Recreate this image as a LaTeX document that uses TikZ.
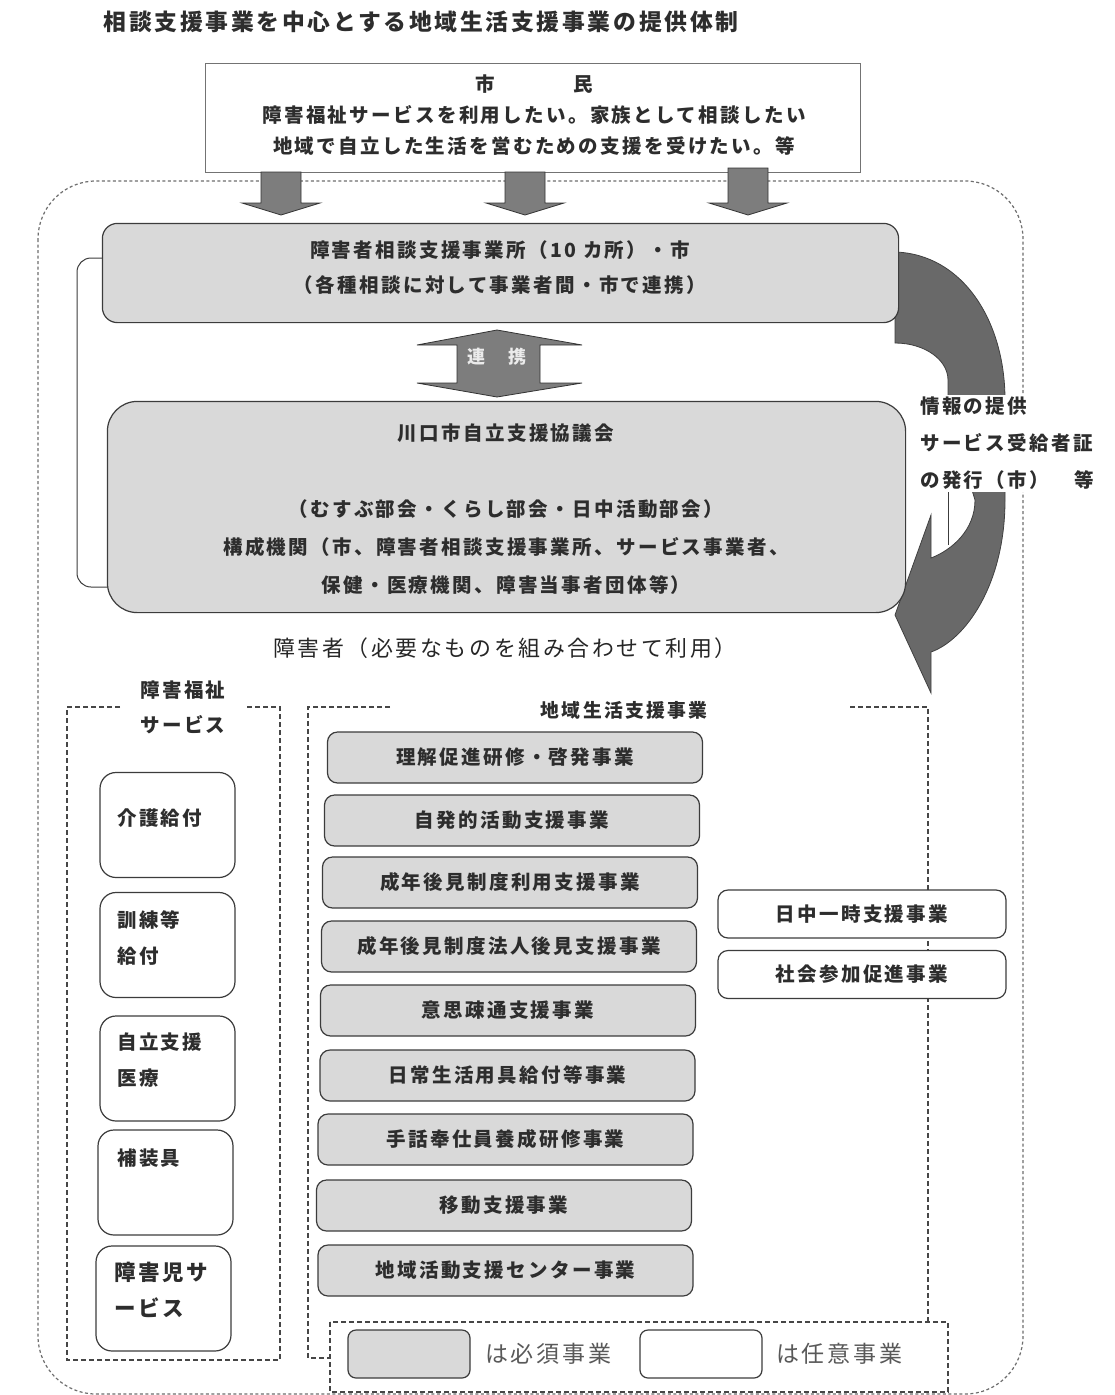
\documentclass[tikz,border=0pt]{standalone}
\usepackage{fontspec}
\newfontfamily\jp[LetterSpace=12]{Noto Sans CJK JP}
\usetikzlibrary{calc}
\definecolor{boxgray}{RGB}{217,217,217}
\definecolor{edge}{RGB}{60,60,60}
\definecolor{arrowgray}{RGB}{125,125,125}
\definecolor{darkarrow}{RGB}{105,105,105}
\definecolor{txt}{RGB}{45,45,45}
\definecolor{dashcol}{RGB}{70,70,70}
\definecolor{outercol}{RGB}{110,110,110}
\begin{document}
\begin{tikzpicture}[x=1pt,y=-1pt,
  every node/.style={inner sep=0pt, text=txt, font=\jp\bfseries\fontsize{19.5}{24}\selectfont},
  graybox/.style={draw=edge, line width=1.2pt, fill=boxgray, rounded corners=10pt},
  whitebox/.style={draw=edge, line width=1.2pt, fill=white, rounded corners=14pt},
  dashbox/.style={draw=dashcol, line width=1.3pt, dash pattern=on 5pt off 3pt},
  outerline/.style={draw=outercol, line width=1.2pt, dash pattern=on 3pt off 2.5pt},
  blockarrow/.style={fill=arrowgray, draw=black!80, line width=0.8pt},
  listbox/.style={graybox, minimum width=375pt, minimum height=51pt},
  servbox/.style={whitebox, rounded corners=16pt, minimum width=135pt, minimum height=105pt},
  optbox/.style={whitebox, rounded corners=10pt, minimum width=288pt, minimum height=48pt}
]
\useasboundingbox (0,0) rectangle (1114,1395);
\fill[white] (0,0) rectangle (1114,1395);

% outer dashed frame
\draw[outerline, rounded corners=58pt] (38,181) rectangle (1023,1394);

% title
\node[font=\jp\bfseries\fontsize{22.8}{28}\selectfont] (title) at (421,22) {相談支援事業を中心とする地域生活支援事業の提供体制};

% thin line beside curved arrow
\draw[edge, line width=0.8pt] (948,365) -- (948,545);

% curved arrow (information flow)
\filldraw[fill=darkarrow, draw=black!75, line width=0.8pt]
  (895,252) .. controls (962,254) and (1005,320) .. (1005,400)
  -- (1005,500)
  .. controls (1005,585) and (965,640) .. (931,652)
  -- (931,693) -- (895,615) -- (931,515) -- (931,558)
  .. controls (952,550) and (975,530) .. (975,500)
  -- (948,410) -- (948,380)
  .. controls (948,360) and (925,343) .. (895,343) -- cycle;

% bracket linking the two upper boxes
\coordinate (brTop) at (77,258);
\coordinate (brBot) at (77,587);

% upper boxes
\node[graybox, rounded corners=15pt, minimum width=795pt, minimum height=98pt] (sodan) at (500.5,273) {};
\node[graybox, rounded corners=30pt, minimum width=797pt, minimum height=210pt] (kyogikai) at (506.5,507) {};
\draw[edge, line width=1pt, rounded corners=14pt] (sodan.west |- brTop) -- (brTop) -- (brBot) -- (kyogikai.west |- brBot);
\draw[graybox, rounded corners=15pt] (sodan.north west) rectangle (sodan.south east);
\draw[graybox, rounded corners=30pt] (kyogikai.north west) rectangle (kyogikai.south east);

\node[align=center, font=\jp\bfseries\fontsize{19.5}{35}\selectfont] (sodantxt) at (500,268) {障害者相談支援事業所（10 カ所）・市\\（各種相談に対して事業者間・市で連携）};
\node[align=center, font=\jp\bfseries\fontsize{19.5}{38}\selectfont] (kyogikaitxt) at (506,509) {川口市自立支援協議会\\[38pt]（むすぶ部会・くらし部会・日中活動部会）\\構成機関（市、障害者相談支援事業所、サービス事業者、\\保健・医療機関、障害当事者団体等）};

% info label
\node[fill=white, align=left, anchor=north west, inner sep=2pt, font=\jp\bfseries\fontsize{19.5}{37}\selectfont] (joho) at (918,395) {情報の提供\\サービス受給者証\\の発行（市）\hspace{26pt}等};

% renkei double arrow
\filldraw[blockarrow] (497,330) -- (582,345) -- (540,345) -- (540,383) -- (582,383) -- (497,397) -- (417,383) -- (457,383) -- (457,345) -- (417,345) -- cycle;
\node[text=white!92!black, font=\jp\bfseries\fontsize{18}{20}\selectfont] (renkei) at (497,357) {連\hspace{24pt}携};

% citizens box
\node[draw=black!55, line width=0.9pt, fill=white, minimum width=655pt, minimum height=109pt] (shimin) at (532.5,117.5) {};
\node[align=center, font=\jp\bfseries\fontsize{19.5}{31}\selectfont] (shimintxt) at (534,115) {市\hspace{78pt}民\\障害福祉サービスを利用したい。家族として相談したい\\地域で自立した生活を営むための支援を受けたい。等};

% down arrows
\foreach \cx/\top in {281/172, 525/172, 748/168} {
  \filldraw[blockarrow] (\cx-20,\top) -- (\cx+20,\top) -- (\cx+20,203) -- (\cx+39,203) -- (\cx,215) -- (\cx-39,203) -- (\cx-20,203) -- cycle;
}

% users line
\node[font=\jp\fontsize{21.9}{26}\selectfont, text=black!85] (shogaisha) at (505,648) {障害者（必要なものを組み合わせて利用）};

% left dashed group
\draw[dashbox] (120,707) -- (67,707) -- (67,1360) -- (280,1360) -- (280,707) -- (245,707);
\node[align=center, font=\jp\bfseries\fontsize{19.5}{35}\selectfont] (fukushi) at (183,707) {障害福祉\\サービス};

% middle dashed group
\draw[dashbox] (390,707) -- (308,707) -- (308,1358) -- (330,1358);
\draw[dashbox] (850,707) -- (928,707) -- (928,1322);
\node[font=\jp\bfseries\fontsize{18.8}{24}\selectfont] (chiiki) at (624,710) {地域生活支援事業};

% welfare service boxes
\node[servbox] (s1) at (167.5,825) {};
\node[servbox] (s2) at (167.5,945) {};
\node[servbox] (s3) at (167.5,1068.5) {};
\node[servbox] (s4) at (165.5,1182.5) {};
\node[servbox] (s5) at (163.5,1298.5) {};
\node[anchor=west] (s1t) at (117,818) {介護給付};
\node[anchor=west, align=left, font=\jp\bfseries\fontsize{19.5}{36}\selectfont] (s2t) at (117,937.5) {訓練等\\給付};
\node[anchor=west, align=left, font=\jp\bfseries\fontsize{19.5}{36}\selectfont] (s3t) at (117,1060) {自立支援\\医療};
\node[anchor=west] (s4t) at (117,1158) {補装具};
\node[anchor=west, align=left, font=\jp\bfseries\fontsize{21.5}{36}\selectfont] (s5t) at (114,1290) {障害児サ\\ービス};

% mandatory community support projects
\node[listbox] (l1) at (515,757.5) {理解促進研修・啓発事業};
\node[listbox] (l2) at (512,820.5) {自発的活動支援事業};
\node[listbox] (l3) at (510,882.5) {成年後見制度利用支援事業};
\node[listbox] (l4) at (509,946.5) {成年後見制度法人後見支援事業};
\node[listbox] (l5) at (508,1010.5) {意思疎通支援事業};
\node[listbox] (l6) at (507.5,1075.5) {日常生活用具給付等事業};
\node[listbox] (l7) at (505.5,1139.5) {手話奉仕員養成研修事業};
\node[listbox] (l8) at (504,1205.5) {移動支援事業};
\node[listbox] (l9) at (505.5,1270.5) {地域活動支援センター事業};

% optional projects
\node[optbox] (r1) at (862,914) {日中一時支援事業};
\node[optbox] (r2) at (862,974.5) {社会参加促進事業};

% legend
\draw[dashbox] (330,1322) rectangle (948,1392);
\node[graybox, rounded corners=8pt, minimum width=122pt, minimum height=48pt] (leg1) at (409,1354) {};
\node[anchor=west, text=black!65, font=\jp\fontsize{23}{26}\selectfont] (leg1t) at (485,1354) {は必須事業};
\node[whitebox, rounded corners=8pt, minimum width=122pt, minimum height=48pt] (leg2) at (701,1354) {};
\node[anchor=west, text=black!65, font=\jp\fontsize{23}{26}\selectfont] (leg2t) at (776,1354) {は任意事業};
\end{tikzpicture}
\end{document}
